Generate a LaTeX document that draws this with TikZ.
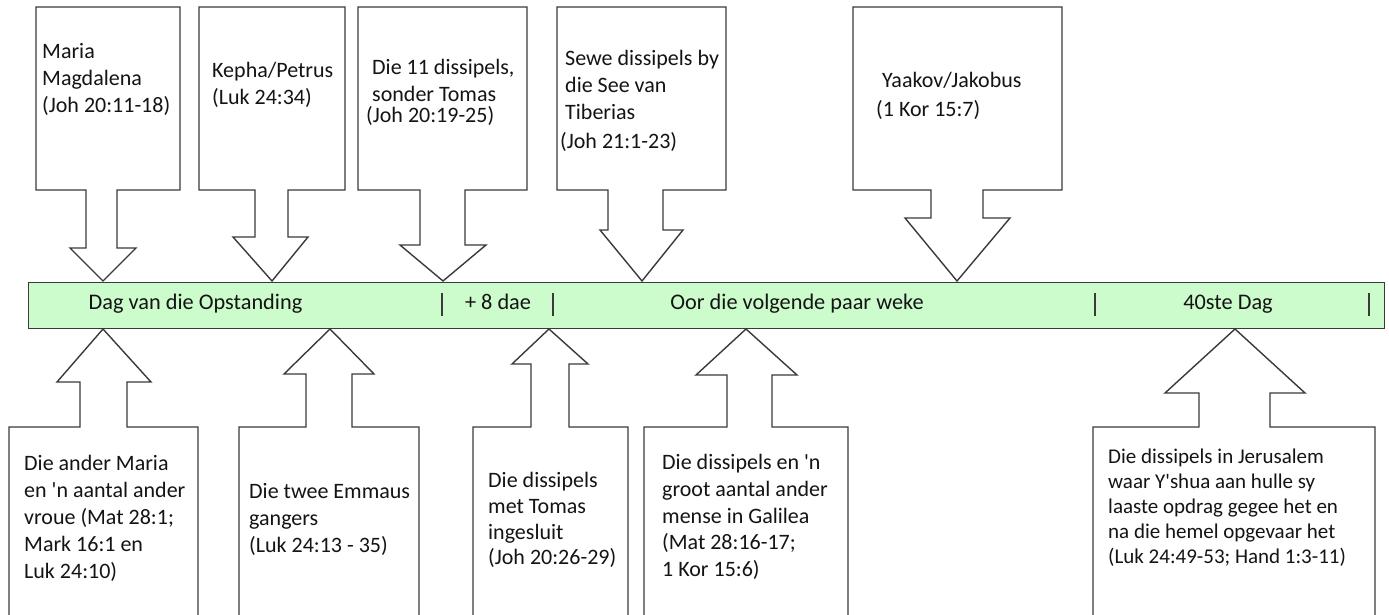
\documentclass[tikz,border=0pt]{standalone}
\usepackage{fontspec}
\setmainfont{Carlito}
\definecolor{linegray}{HTML}{3A3A3A}
\definecolor{textcol}{HTML}{141414}
\definecolor{barfill}{HTML}{CCFCCC}
\begin{document}
\begin{tikzpicture}[x=1pt,y=-1pt,
  callout/.style={draw=linegray, line width=1.4pt, line join=miter, fill=white},
  txt/.style={anchor=north west, inner sep=0pt, align=left, text=textcol, font=\fontsize{22}{27}\selectfont},
  bartxt/.style={anchor=base, inner sep=0pt, text=textcol, font=\fontsize{22.3}{26}\selectfont},
  sepline/.style={draw=linegray, line width=1.1pt}]
\useasboundingbox (0,0) rectangle (1389,615);
\clip (0,0) rectangle (1389,615);

% ---------- top callouts ----------
\draw[callout] (36,7) -- (180,7) -- (180,190) -- (117,190) -- (117,248) -- (136,248) -- (103,281) -- (70,248) -- (86,248) -- (86,190) -- (36,190) -- cycle;
\draw[callout] (199,7) -- (345,7) -- (345,190) -- (288,190) -- (288,237) -- (308,237) -- (272,281) -- (233,237) -- (255,237) -- (255,190) -- (199,190) -- cycle;
\draw[callout] (358,7) -- (527,7) -- (527,190) -- (465,190) -- (465,245) -- (486,245) -- (443,281) -- (400,245) -- (420,245) -- (420,190) -- (358,190) -- cycle;
\draw[callout] (557,7) -- (726,7) -- (726,190) -- (663,190) -- (663,230) -- (683,230) -- (642,281) -- (600,230) -- (608,230) -- (608,190) -- (557,190) -- cycle;
\draw[callout] (853,7) -- (1062,7) -- (1062,190) -- (983,190) -- (983,218) -- (1010,218) -- (957,281) -- (905,218) -- (931,218) -- (931,190) -- (853,190) -- cycle;

% ---------- bottom callouts ----------
\draw[callout] (9,625) -- (9,427) -- (80,427) -- (80,382) -- (57,382) -- (103,329) -- (151,382) -- (127,382) -- (127,427) -- (198,427) -- (198,625);
\draw[callout] (239,625) -- (239,427) -- (306,427) -- (306,374) -- (284,374) -- (330,329) -- (374,374) -- (352,374) -- (352,427) -- (419,427) -- (419,625);
\draw[callout] (473,625) -- (473,427) -- (531,427) -- (531,364) -- (512,364) -- (549,329) -- (588,364) -- (569,364) -- (569,427) -- (628,427) -- (628,625);
\draw[callout] (644,625) -- (644,427) -- (727,427) -- (727,375) -- (696,375) -- (746,329) -- (797,375) -- (772,375) -- (772,427) -- (848,427) -- (848,625);
\draw[callout] (1093,625) -- (1093,427) -- (1199,427) -- (1199,393) -- (1165,393) -- (1235,329) -- (1305,393) -- (1270,393) -- (1270,427) -- (1375,427) -- (1375,625);

% ---------- timeline bar ----------
\node (bar) [draw=linegray, fill=barfill, line width=1.4pt, minimum width=1356pt, minimum height=46pt, inner sep=0pt, anchor=north west] at (28,282) {};
\node (d1) [bartxt] at (195.5,309) {Dag van die Opstanding};
\node (d2) [bartxt] at (498,309) {+ 8 dae};
\node (d3) [bartxt] at (797,309) {Oor die volgende paar weke};
\node (d4) [bartxt] at (1228,309) {40ste Dag};
\draw[sepline] (442,293) -- (442,316);
\draw[sepline] (553,293) -- (553,316);
\draw[sepline] (1095,293) -- (1095,316);
\draw[sepline] (1369,293) -- (1369,316);

% ---------- top texts ----------
\node (t1) [txt] at (42,39.6) {\strut Maria\\Magdalena\\(Joh 20:11-18)};
\node (t2) [txt] at (212,58.6) {\strut Kepha/Petrus\\(Luk 24:34)};
\node (t3) [txt] at (366,55.6) {\strut\hspace{6pt}Die 11 dissipels,\\\hspace{6pt}sonder Tomas\\[-6pt](Joh 20:19-25)};
\node (t4) [txt] at (560,46.6) {\strut\hspace{5pt}Sewe dissipels by\\\hspace{5pt}die See van\\\hspace{5pt}Tiberias\\[2pt](Joh 21:1-23)};
\node (t5) [txt] at (876,68.6) {\strut\hspace{6pt}Yaakov/Jakobus\\[2pt](1 Kor 15:7)};

% ---------- bottom texts ----------
\node (b1) [txt] at (24,451.6) {\strut Die ander Maria\\en \textquotesingle n aantal ander\\vroue (Mat 28:1;\\Mark 16:1 en\\Luk 24:10)};
\node (b2) [txt] at (249,479.6) {\strut Die twee Emmaus\\gangers\\(Luk 24:13 - 35)};
\node (b3) [txt, font=\fontsize{22}{25.7}\selectfont] at (488,469.6) {\strut Die dissipels\\met Tomas\\ingesluit\\(Joh 20:26-29)};
\node (b4) [txt, font=\fontsize{22}{26.8}\selectfont] at (662,450.6) {\strut Die dissipels en \textquotesingle n\\groot aantal ander\\mense in Galilea\\(Mat 28:16-17;\\1 Kor 15:6)};
\node (b5) [txt, font=\fontsize{21}{25}\selectfont] at (1108,445.6) {\strut Die dissipels in Jerusalem\\waar Y\textquotesingle shua aan hulle sy\\laaste opdrag gegee het en\\na die hemel opgevaar het\\(Luk 24:49-53; Hand 1:3-11)};
\end{tikzpicture}
\end{document}
